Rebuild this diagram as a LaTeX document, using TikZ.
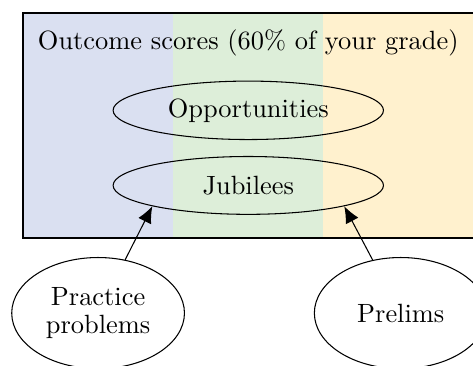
\documentclass[tikz,border=0pt]{standalone}
\usepackage{xcolor}
\usepackage{tikz}
\usetikzlibrary{shapes,arrows.meta}

\definecolor{outblue}{RGB}{218,224,241}
\definecolor{outgreen}{RGB}{221,238,217}
\definecolor{outorange}{RGB}{255,241,206}

\begin{document}
\begin{tikzpicture}[
    scoreoval/.style={draw,ellipse,minimum width=3.6cm,minimum height=0.77cm},
    workoval/.style={draw,ellipse,align=center,minimum width=2.3cm,minimum height=1.48cm},
    feed/.style={-{Latex[length=6.3pt,width=5.4pt]}}]
      \clip (-0.306,-1.704) rectangle (5.992,3.169);
      \fill [outblue] (0,0) rectangle (2,3);
      \fill [outgreen] (2,0) rectangle (4,3);
      \fill [outorange] (4,0) rectangle (6,3);
      \draw [thick] (0,0) rectangle (6,3);
      \node (title) at (3,2.6) {Outcome scores (60\% of your grade)};
      \node (opp) at (3,1.7) [scoreoval] {Opportunities};
      \node (jub) at (3,0.7) [scoreoval] {Jubilees};
      \node (practice) at (1,-1) [workoval] {Practice\\[-1.4pt]problems};
      \node (prelims) at (5.03,-1) [workoval] {Prelims};
      \draw [feed] (practice) -- (jub.south west);
      \draw [feed] (prelims) -- (jub.south east);
\end{tikzpicture}
\end{document}
